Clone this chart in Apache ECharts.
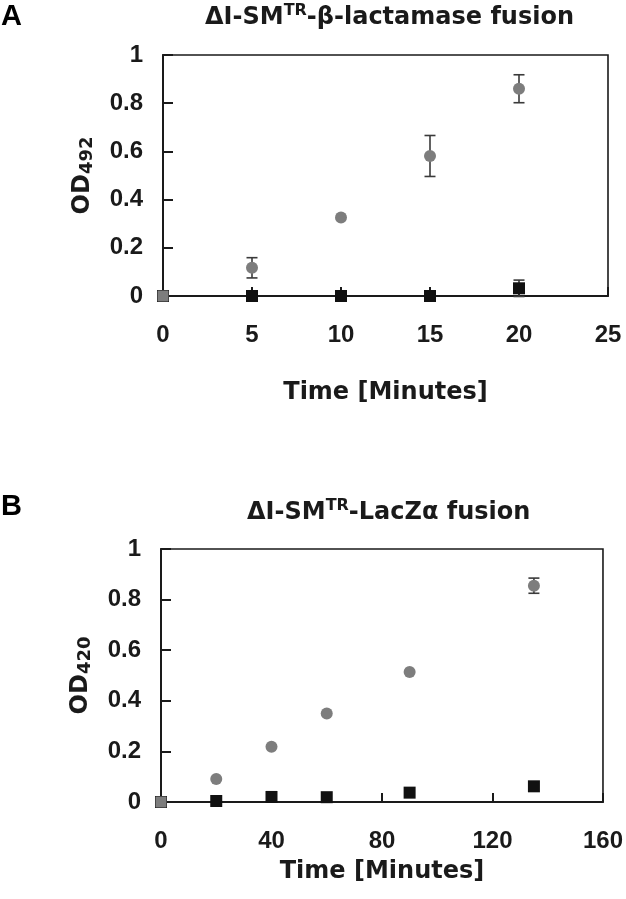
<!DOCTYPE html>
<html>
<head>
<meta charset="utf-8">
<script src="https://cdn.jsdelivr.net/npm/echarts@6/dist/echarts.min.js"></script>
<style>html,body{margin:0;padding:0;background:#fff}#c{width:626px;height:899px}</style>
</head>
<body>
<div id="c"></div>
<script>
// ---- Panel A data: ΔI-SMTR-β-lactamase fusion ----
const timeA = [0, 5, 10, 15, 20];
const circleA = [0, 0.117, 0.326, 0.581, 0.86];
const circleErrA = [0, 0.042, 0.008, 0.085, 0.058];
const squareA = [0, 0, 0, 0, 0.032];
const squareErrA = [0, 0.004, 0.004, 0.004, 0.034];
const xTicksA = [0, 5, 10, 15, 20, 25];

// ---- Panel B data: ΔI-SMTR-LacZα fusion ----
const timeB = [0, 20, 40, 60, 90, 135];
const circleB = [0, 0.091, 0.218, 0.350, 0.514, 0.855];
const circleErrB = [0, 0.004, 0.005, 0.008, 0.007, 0.03];
const squareB = [0, 0.004, 0.02, 0.019, 0.037, 0.062];
const squareErrB = [0, 0.003, 0.004, 0.004, 0.005, 0.006];
const xTicksB = [0, 40, 80, 120, 160];
const yTicks = [0, 0.2, 0.4, 0.6, 0.8, 1];

const DARK = '#1a1a1a';
const GRAY = '#7d7d7d';
const labelFont = {fontFamily: 'Liberation Sans', fontWeight: 'bold', fontSize: 24, color: DARK};
const nameFont = {fontFamily: 'DejaVu Sans', fontWeight: 'bold', fontSize: 24, color: DARK};

function pts(xs, ys, grayOrigin) {
  return xs.map((x, i) => {
    if (grayOrigin && x === 0) return {value: [x, ys[i]], symbol: 'rect', symbolSize: 11};
    return [x, ys[i]];
  });
}
function errData(xs, ys, es) {
  return xs.map((x, i) => [x, ys[i] - es[i], ys[i] + es[i]]).filter((d, i) => es[i] > 0.02);
}
function errSeries(idx, xs, ys, es) {
  return {
    type: 'custom', xAxisIndex: idx, yAxisIndex: idx, z: 1,
    data: errData(xs, ys, es),
    encode: {x: 0, y: [1, 2]},
    renderItem: function (params, api) {
      const x = api.value(0);
      const lo = api.coord([x, api.value(1)]);
      const hi = api.coord([x, api.value(2)]);
      const w = 5.5;
      const st = {stroke: '#3a3a3a', lineWidth: 1.6};
      return {type: 'group', children: [
        {type: 'line', shape: {x1: lo[0], y1: lo[1], x2: hi[0], y2: hi[1]}, style: st},
        {type: 'line', shape: {x1: hi[0] - w, y1: hi[1], x2: hi[0] + w, y2: hi[1]}, style: st},
        {type: 'line', shape: {x1: lo[0] - w, y1: lo[1], x2: lo[0] + w, y2: lo[1]}, style: st}
      ]};
    }
  };
}
function xAxisCfg(idx, ticks, gap) {
  return {
    type: 'value', gridIndex: idx, min: ticks[0], max: ticks[ticks.length - 1],
    interval: ticks[1] - ticks[0],
    axisLine: {show: true, onZero: false, lineStyle: {color: DARK, width: 2}},
    axisTick: {show: true, inside: true, length: 9, lineStyle: {color: DARK, width: 2}},
    axisLabel: Object.assign({margin: 27}, labelFont),
    splitLine: {show: false},
    name: 'Time [Minutes]', nameLocation: 'middle', nameGap: gap,
    nameTextStyle: Object.assign({lineHeight: 26}, nameFont)
  };
}
function yAxisCfg(idx, sub) {
  return {
    type: 'value', gridIndex: idx, min: 0, max: 1, interval: 0.2,
    axisLine: {show: true, lineStyle: {color: DARK, width: 2}},
    axisTick: {show: true, inside: true, length: 10, lineStyle: {color: DARK, width: 2}},
    axisLabel: Object.assign({margin: 20}, labelFont),
    splitLine: {show: false},
    name: 'OD{s|' + sub + '}', nameLocation: 'middle', nameGap: 67,
    nameTextStyle: Object.assign({lineHeight: 26, rich: {
      s: {fontFamily: 'DejaVu Sans', fontWeight: 'bold', fontSize: 18, color: DARK, verticalAlign: 'bottom', lineHeight: 20}
    }}, nameFont)
  };
}
function titleRich(main1, sup, main2, left, top) {
  const a = {fontFamily: 'DejaVu Sans', fontWeight: 'bold', fontSize: 24, color: DARK, lineHeight: 30};
  return {
    text: '{a|' + main1 + '}{s|' + sup + '}{a|' + main2 + '}',
    left: left, top: top, padding: 0,
    textStyle: {rich: {a: a, s: {fontFamily: 'DejaVu Sans', fontWeight: 'bold', fontSize: 16, color: DARK, verticalAlign: 'top', lineHeight: 17}}}
  };
}

const chart = echarts.init(document.getElementById('c'), null, {renderer: 'canvas'});
chart.setOption({
  backgroundColor: '#fff',
  animation: false,
  title: [
    titleRich('ΔI-SM', 'TR', '-β-lactamase fusion', 205, 3),
    titleRich('ΔI-SM', 'TR', '-LacZα fusion', 247, 498),
    {text: 'A', left: 1, top: 2, padding: 0, textStyle: {fontFamily: 'Liberation Sans', fontWeight: 'bold', fontSize: 29, color: '#000'}},
    {text: 'B', left: 1, top: 492, padding: 0, textStyle: {fontFamily: 'Liberation Sans', fontWeight: 'bold', fontSize: 29, color: '#000'}}
  ],
  grid: [
    {left: 163, right: 18, top: 55, height: 241, show: true, borderColor: DARK, borderWidth: 1.6, backgroundColor: 'transparent'},
    {left: 161, right: 22, top: 549, height: 253, show: true, borderColor: DARK, borderWidth: 1.6, backgroundColor: 'transparent'}
  ],
  xAxis: [xAxisCfg(0, xTicksA, 84), xAxisCfg(1, xTicksB, 57)],
  yAxis: [yAxisCfg(0, '492'), yAxisCfg(1, '420')],
  series: [
    errSeries(0, timeA, squareA, squareErrA),
    errSeries(0, timeA, circleA, circleErrA),
    {type: 'scatter', xAxisIndex: 0, yAxisIndex: 0, z: 3, symbol: 'rect', symbolSize: 12,
      itemStyle: {color: '#111', opacity: 1}, data: pts(timeA, squareA, false)},
    {type: 'scatter', xAxisIndex: 0, yAxisIndex: 0, z: 4, symbol: 'circle', symbolSize: 12,
      itemStyle: {color: GRAY, opacity: 1}, data: pts(timeA, circleA, true)},
    errSeries(1, timeB, squareB, squareErrB),
    errSeries(1, timeB, circleB, circleErrB),
    {type: 'scatter', xAxisIndex: 1, yAxisIndex: 1, z: 3, symbol: 'rect', symbolSize: 12,
      itemStyle: {color: '#111', opacity: 1}, data: pts(timeB, squareB, false)},
    {type: 'scatter', xAxisIndex: 1, yAxisIndex: 1, z: 4, symbol: 'circle', symbolSize: 12,
      itemStyle: {color: GRAY, opacity: 1}, data: pts(timeB, circleB, true)}
  ]
});
</script>
</body>
</html>
